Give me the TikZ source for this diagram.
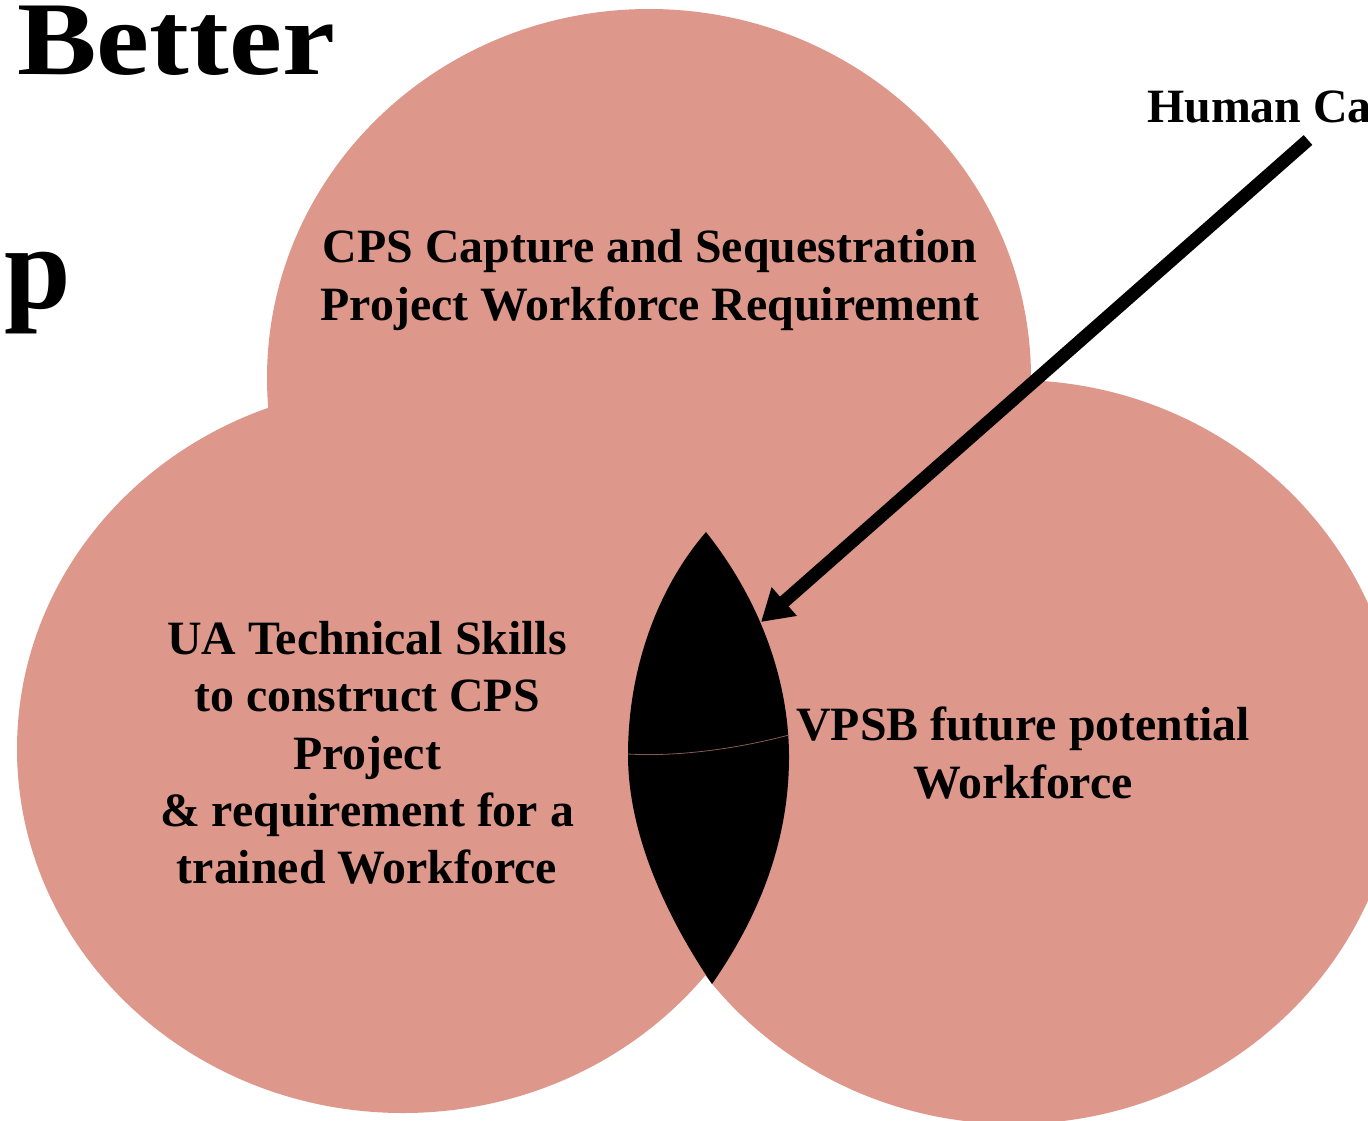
\documentclass[tikz,border=0pt]{standalone}
\usepackage{fontspec}
\setmainfont{Liberation Serif}
\usetikzlibrary{arrows.meta}
\definecolor{vennfill}{RGB}{222,152,139}

\begin{document}
\begin{tikzpicture}
[x=1bp,y=-1bp,
setlabel/.style={inner sep=0pt,align=center,font=\bfseries\fontsize{48}{57.5}\selectfont},
titlepart/.style={inner sep=0pt,anchor=base west,font=\bfseries\fontsize{105}{110}\selectfont},
setdisc/.style={fill=vennfill},
pointer/.style={line width=13bp,-{Triangle[length=31bp,width=36bp]}}
]
\useasboundingbox (0,0) rectangle (1368,1120);
\clip (0,0) rectangle (1368,1120);
\fill[setdisc] (649,378) ellipse [x radius=382,y radius=369];
\fill[setdisc] (403,749) ellipse [x radius=386,y radius=364];
\fill[setdisc] (1014,752) ellipse [x radius=386,y radius=372];
\fill (706,532) .. controls (660,585) and (628,665) .. (628,755)
  .. controls (628,840) and (672,925) .. (712,984)
  .. controls (760,915) and (789,840) .. (789,757)
  .. controls (789,680) and (760,600) .. (706,532) -- cycle;
\draw[vennfill!60!black,line width=0.8bp] (628,754) .. controls (680,757) and (740,748) .. (789,735);
\node[setlabel] (CPS) at (650,280) {CPS Capture and Sequestration\\Project Workforce Requirement};
\node[setlabel] (UA) at (367,753) {UA Technical Skills\\to construct CPS\\Project\\\& requirement for a\\trained Workforce};
\node[setlabel] (VPSB) at (1023,753) {VPSB future potential\\Workforce};
\node[titlepart] (Better) at (17,74) {\scalebox{1.14}[1]{Better}};
\node[titlepart,font=\bfseries\fontsize{120}{125}\selectfont] (Ship) at (4,308) {p};
\node[setlabel,anchor=base west] (HC) at (1147,122) {Human Ca};
\coordinate (HCfoot) at (1308,140);
\coordinate (LensTip) at (761,622);
\draw[pointer] (HCfoot) -- (LensTip);
\end{tikzpicture}
\end{document}
